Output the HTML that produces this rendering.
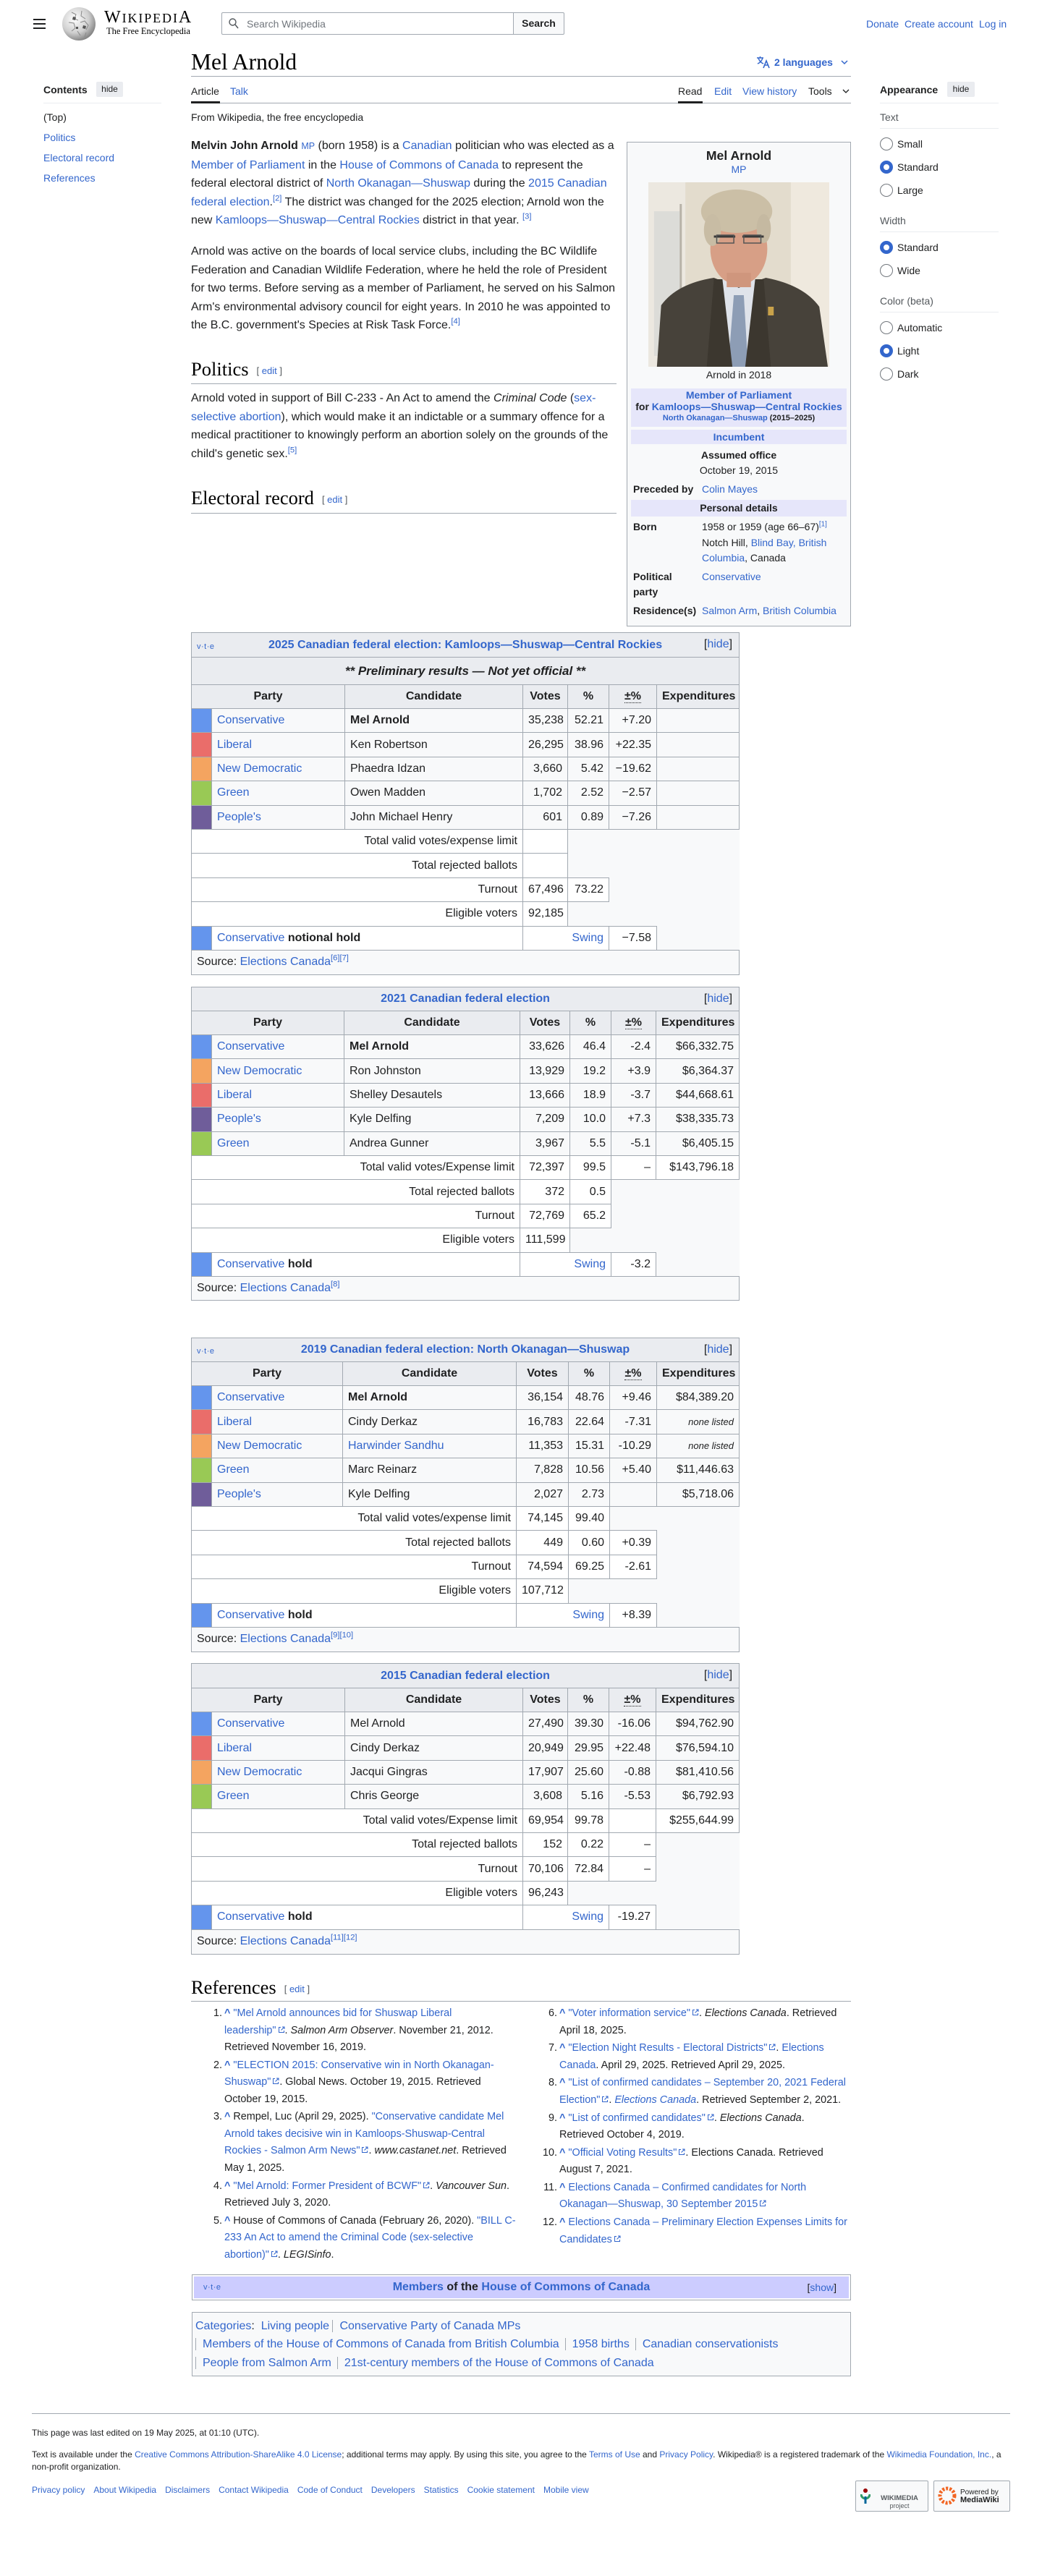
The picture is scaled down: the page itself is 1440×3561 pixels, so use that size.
<!DOCTYPE html>
<html><head><meta charset="utf-8">
<style>
*{box-sizing:border-box;margin:0;padding:0}
html,body{width:1440px;height:3561px;background:#fff;overflow:hidden}
body{position:relative;font-family:"Liberation Sans",Arial,sans-serif;color:#202122;font-size:14px}
a{color:#3366cc;text-decoration:none}
.abs{position:absolute}
.nw{white-space:nowrap}
.serif{font-family:"Liberation Serif",serif}
sup{font-size:0.7em;line-height:0;vertical-align:super}
.p16{position:absolute;left:264px;font-size:16px;line-height:25.6px;white-space:nowrap}
.hd{position:absolute;left:264px;font-family:"Liberation Serif",serif;font-size:26.5px;line-height:34px;border-bottom:1px solid #a2a9b1;white-space:nowrap;color:#000}
.ed{font-family:"Liberation Sans",Arial,sans-serif;font-size:13px;color:#54595d;margin-left:11px;vertical-align:2px}
.tl{position:absolute;font-size:14px;line-height:20px;white-space:nowrap}
.rad{position:absolute;left:1216px;width:18px;height:18px;border:1px solid #72777d;border-radius:50%;background:#fff}
.rad.on{border:5px solid #3366cc}
.rl{position:absolute;left:1240px;font-size:14px;line-height:20px}
.sl{position:absolute;left:1216px;width:164px;height:1px;background:#eaecf0}
.sh{position:absolute;left:1216px;font-size:14px;line-height:20px;color:#54595d}
/* infobox */
.ib{position:absolute;left:866px;top:196px;width:310px;height:670px;background:#f8f9fa;border:1px solid #a2a9b1;font-size:14px}
.ib .c{position:absolute;left:0;width:308px;text-align:center;line-height:20px;white-space:nowrap}
.ib .lab{position:absolute;left:8px;font-weight:bold;line-height:21px;white-space:nowrap}
.ib .dat{position:absolute;left:103px;line-height:21.5px;white-space:nowrap}
.ib .bx{position:absolute;left:5px;width:298px;background:#e6e6fa;text-align:center;font-weight:bold;white-space:nowrap}
/* tables */
table.el{position:absolute;left:264px;width:757px;border-collapse:collapse;table-layout:fixed;background:#f8f9fa;font-size:16px;line-height:20px;color:#202122}
table.el td,table.el th{border:1px solid #a2a9b1;padding:0 7px;white-space:nowrap;overflow:hidden}
table.el th{background:#eaecf0;font-weight:bold;text-align:center}
table.el tr{height:33.4px}
table.el tr.t td{background:#fff;text-align:right}
table.el td.r{text-align:right}
table.el td.sw{padding:0}
table.el td.w{background:#fff}
table.el th.cap{position:relative}
.vte{position:absolute;left:7px;top:9px;font-size:11px;font-weight:normal;color:#3366cc;letter-spacing:0.5px}
.hide{position:absolute;right:9px;top:6px;font-weight:normal;color:#202122}
.abbr{border-bottom:1px dotted #202122}
.nl{font-style:italic;font-size:13px}
td.src{text-align:left!important;background:#f8f9fa}
/* refs */
.refcol{position:absolute;font-size:14.4px;line-height:23.5px;white-space:nowrap}
.refcol .it{position:relative;margin-bottom:1.2px}
.refcol .n{position:absolute;right:100%;margin-right:3px;text-align:right}
.car{color:#3366cc;font-weight:bold}
.ext{display:inline-block;width:10px;height:10px;margin-left:2px;vertical-align:0px}
.cat{position:absolute;left:270px;font-size:16px;line-height:25px;white-space:nowrap}
.cat span.s{border-left:1px solid #a2a9b1;padding:0 8px 0 9px}
.ft{position:absolute;left:44px;font-size:12px;line-height:17px;white-space:nowrap}
.ft a{margin-right:12px}
</style></head><body>

<!-- HEADER -->
<div class="abs" style="left:46px;top:26px;width:17px;height:2px;background:#202122"></div>
<div class="abs" style="left:46px;top:32px;width:17px;height:2px;background:#202122"></div>
<div class="abs" style="left:46px;top:38px;width:17px;height:2px;background:#202122"></div>
<svg class="abs" style="left:85px;top:9px" width="48" height="48" viewBox="0 0 48 48">
<defs><radialGradient id="g1" cx="0.38" cy="0.35" r="0.7"><stop offset="0" stop-color="#ffffff"/><stop offset="0.6" stop-color="#cfcfcf"/><stop offset="1" stop-color="#7d7d7d"/></radialGradient></defs>
<circle cx="24" cy="24" r="23" fill="url(#g1)"/>
<path d="M14 8l6 3-2 6 5 2M28 6l-1 7 6 4M10 22l7 1 2 7-5 4M26 22l6-2 5 6-3 6M22 34l4 6M34 36l-2 6" stroke="#8a8a8a" stroke-width="1" fill="none"/>
<path d="M16 14l4 1-1 4-4-1z M30 26l4 1-1 4-4-1z M20 28l3 0 0 3-3 0z" fill="#555"/>
</svg>
<div class="abs serif nw" style="left:144px;top:11px;font-size:18px;line-height:26px;letter-spacing:1.9px;color:#000"><span style="font-size:24px">W</span>IKIPEDI<span style="font-size:24px">A</span></div>
<div class="abs serif nw" style="left:147px;top:36px;font-size:12.5px;line-height:14px;color:#000">The Free Encyclopedia</div>
<div class="abs" style="left:306px;top:17px;width:404px;height:31px;border:1px solid #a2a9b1;border-radius:2px 0 0 2px;background:#fff"></div>
<svg class="abs" style="left:316px;top:25px" width="14" height="15" viewBox="0 0 14 15"><circle cx="5.5" cy="5.5" r="4.5" fill="none" stroke="#54595d" stroke-width="1.4"/><path d="M9 9l4 5" stroke="#54595d" stroke-width="1.5"/></svg>
<div class="tl" style="left:341px;top:23px;color:#72777d">Search Wikipedia</div>
<div class="abs" style="left:709px;top:17px;width:71px;height:31px;border:1px solid #a2a9b1;border-radius:0 2px 2px 0;background:#f8f9fa;text-align:center;font-weight:bold;line-height:29px;font-size:14px">Search</div>
<div class="tl" style="left:1197px;top:23px"><a>Donate</a></div>
<div class="tl" style="left:1250px;top:23px"><a>Create account</a></div>
<div class="tl" style="left:1353px;top:23px"><a>Log in</a></div>

<!-- TITLE -->
<div class="abs serif nw" style="left:264px;top:68px;font-size:31.5px;line-height:36px;color:#000">Mel Arnold</div>
<svg class="abs" style="left:1045px;top:77px" width="20" height="18" viewBox="0 0 20 18"><path d="M1 3h9M5.5 1v2M3 3c1 4 4 7 7 8M9 3c-1 4-4 7-7 8" stroke="#3366cc" stroke-width="1.5" fill="none"/><path d="M10 17l4-10 4 10M11.5 13h5" stroke="#3366cc" stroke-width="1.6" fill="none"/></svg>
<div class="tl" style="left:1070px;top:76px;font-weight:bold;color:#3366cc">2 languages</div>
<svg class="abs" style="left:1162px;top:82px" width="10" height="8" viewBox="0 0 10 8"><path d="M1 2l4 4 4-4" stroke="#3366cc" stroke-width="1.5" fill="none"/></svg>
<div class="abs" style="left:264px;top:105px;width:912px;height:1px;background:#a2a9b1"></div>

<!-- TABS -->
<div class="tl" style="left:264px;top:116px">Article</div>
<div class="tl" style="left:318px;top:116px"><a>Talk</a></div>
<div class="tl" style="left:937px;top:116px">Read</div>
<div class="tl" style="left:987px;top:116px"><a>Edit</a></div>
<div class="tl" style="left:1026px;top:116px"><a>View history</a></div>
<div class="tl" style="left:1117px;top:116px">Tools</div>
<svg class="abs" style="left:1164px;top:122px" width="10" height="8" viewBox="0 0 10 8"><path d="M1 2l4 4 4-4" stroke="#202122" stroke-width="1.3" fill="none"/></svg>
<div class="abs" style="left:264px;top:142px;width:912px;height:1px;background:#a2a9b1"></div>
<div class="abs" style="left:264px;top:140px;width:40px;height:3px;background:#202122"></div>
<div class="abs" style="left:937px;top:140px;width:34px;height:3px;background:#202122"></div>
<div class="tl" style="left:264px;top:152px">From Wikipedia, the free encyclopedia</div>

<!-- LEFT SIDEBAR -->
<div class="tl" style="left:60px;top:114px;font-weight:bold">Contents</div>
<div class="abs" style="left:133px;top:113px;width:37px;height:21px;background:#eaecf0;border-radius:2px;font-size:12px;line-height:21px;text-align:center">hide</div>
<div class="abs" style="left:60px;top:142px;width:163px;height:1px;background:#eaecf0"></div>
<div class="tl" style="left:60px;top:152px">(Top)</div>
<div class="tl" style="left:60px;top:180px"><a>Politics</a></div>
<div class="tl" style="left:60px;top:208px"><a>Electoral record</a></div>
<div class="tl" style="left:60px;top:236px"><a>References</a></div>

<!-- RIGHT SIDEBAR -->
<div class="tl" style="left:1216px;top:114px;font-weight:bold">Appearance</div>
<div class="abs" style="left:1309px;top:113px;width:38px;height:21px;background:#eaecf0;border-radius:2px;font-size:12px;line-height:21px;text-align:center">hide</div>
<div class="sl" style="top:142px"></div>
<div class="sh" style="top:152px">Text</div>
<div class="sl" style="top:177px"></div>
<div class="rad" style="top:190px"></div><div class="rl" style="top:189px">Small</div>
<div class="rad on" style="top:222px"></div><div class="rl" style="top:221px">Standard</div>
<div class="rad" style="top:254px"></div><div class="rl" style="top:253px">Large</div>
<div class="sh" style="top:295px">Width</div>
<div class="sl" style="top:320px"></div>
<div class="rad on" style="top:333px"></div><div class="rl" style="top:332px">Standard</div>
<div class="rad" style="top:365px"></div><div class="rl" style="top:364px">Wide</div>
<div class="sh" style="top:406px">Color (beta)</div>
<div class="sl" style="top:431px"></div>
<div class="rad" style="top:444px"></div><div class="rl" style="top:443px">Automatic</div>
<div class="rad on" style="top:476px"></div><div class="rl" style="top:475px">Light</div>
<div class="rad" style="top:508px"></div><div class="rl" style="top:507px">Dark</div>

<!-- BODY TEXT -->
<div class="p16" style="top:189px">
<div><b>Melvin John Arnold</b> <a style="font-size:12.5px">MP</a> (born 1958) is a <a>Canadian</a> politician who was elected as a</div>
<div><a>Member of Parliament</a> in the <a>House of Commons of Canada</a> to represent the</div>
<div>federal electoral district of <a>North Okanagan—Shuswap</a> during the <a>2015 Canadian</a></div>
<div><a>federal election</a>.<sup><a>[2]</a></sup> The district was changed for the 2025 election; Arnold won the</div>
<div>new <a>Kamloops—Shuswap—Central Rockies</a> district in that year. <sup><a>[3]</a></sup></div>
</div>
<div class="p16" style="top:335px">
<div>Arnold was active on the boards of local service clubs, including the BC Wildlife</div>
<div>Federation and Canadian Wildlife Federation, where he held the role of President</div>
<div>for two terms. Before serving as a member of Parliament, he served on his Salmon</div>
<div>Arm's environmental advisory council for eight years. In 2010 he was appointed to</div>
<div>the B.C. government's Species at Risk Task Force.<sup><a>[4]</a></sup></div>
</div>
<div class="hd" style="top:493px;width:588px;height:38px">Politics<span class="ed">[ <a>edit</a> ]</span></div>
<div class="p16" style="top:538px">
<div>Arnold voted in support of Bill C-233 - An Act to amend the <i>Criminal Code</i> (<a>sex-</a></div>
<div><a>selective abortion</a>), which would make it an indictable or a summary offence for a</div>
<div>medical practitioner to knowingly perform an abortion solely on the grounds of the</div>
<div>child's genetic sex.<sup><a>[5]</a></sup></div>
</div>
<div class="hd" style="top:671px;width:588px;height:39px">Electoral record<span class="ed">[ <a>edit</a> ]</span></div>

<!-- INFOBOX -->
<div class="ib">
<div class="c" style="top:7px;font-weight:bold;font-size:17.6px;line-height:22px">Mel Arnold</div>
<div class="c" style="top:27px"><a>MP</a></div>
<svg class="abs" style="left:29px;top:55px" width="250" height="255" viewBox="0 0 254 255" preserveAspectRatio="none">
<rect width="254" height="255" fill="#e3dccd"/>
<rect x="0" y="0" width="52" height="255" fill="#ece8e0"/>
<rect x="8" y="40" width="36" height="200" fill="#dcdcd8"/>
<rect x="44" y="30" width="3" height="220" fill="#b7b2a8"/>
<rect x="200" y="0" width="54" height="255" fill="#efe9de"/>
<path d="M12 255 L18 170 Q40 140 92 132 L127 145 L165 132 Q218 142 240 172 L252 255 Z" fill="#47423a"/>
<path d="M104 134 L127 146 L150 134 L160 255 L95 255 Z" fill="#dfe3ea"/>
<path d="M120 156 L134 156 L140 255 L112 255 Z" fill="#8d9db5"/>
<path d="M92 134 L104 134 L118 255 L82 255 Z" fill="#3c372f"/>
<path d="M150 134 L162 134 L172 255 L136 255 Z" fill="#3c372f"/>
<rect x="168" y="172" width="8" height="12" fill="#c9a24a"/>
<ellipse cx="127" cy="92" rx="40" ry="50" fill="#d79f86"/>
<rect x="110" y="125" width="34" height="20" fill="#cf967d"/>
<ellipse cx="124" cy="40" rx="50" ry="30" fill="#cbbfa6"/>
<ellipse cx="90" cy="66" rx="12" ry="22" fill="#c8bca4"/>
<ellipse cx="162" cy="64" rx="10" ry="20" fill="#c5b9a1"/>
<path d="M92 75 h30 M132 75 h30" stroke="#3a3a3a" stroke-width="3"/>
<rect x="96" y="73" width="24" height="11" fill="none" stroke="#555" stroke-width="1.5"/>
<rect x="134" y="73" width="24" height="11" fill="none" stroke="#555" stroke-width="1.5"/>
</svg>
<div class="c" style="top:311px">Arnold in 2018</div>
<div class="bx" style="top:340px;height:53px;line-height:16px;padding-top:1px">
<div><a>Member of Parliament</a></div>
<div>for <a>Kamloops—Shuswap—Central Rockies</a></div>
<div style="font-size:11px;line-height:17px"><a>North Okanagan—Shuswap</a> (2015–2025)</div>
</div>
<div class="bx" style="top:397px;height:20px;line-height:20px"><a>Incumbent</a></div>
<div class="c" style="top:422px;font-weight:bold">Assumed office</div>
<div class="c" style="top:443px">October 19, 2015</div>
<div class="lab" style="top:469px">Preceded by</div>
<div class="dat" style="top:469px"><a>Colin Mayes</a></div>
<div class="bx" style="top:494px;height:23px;line-height:23px">Personal details</div>
<div class="lab" style="top:521px">Born</div>
<div class="dat" style="top:521px">1958 or 1959 (age 66–67)<sup><a>[1]</a></sup><br>Notch Hill, <a>Blind Bay, British</a><br><a>Columbia</a>, Canada</div>
<div class="lab" style="top:590px">Political<br>party</div>
<div class="dat" style="top:590px"><a>Conservative</a></div>
<div class="lab" style="top:637px">Residence(s)</div>
<div class="dat" style="top:637px"><a>Salmon Arm</a>, <a>British Columbia</a></div>
</div>

<!-- TABLE 2025 -->
<table class="el" style="top:874px">
<colgroup><col style="width:28px"><col style="width:184px"><col style="width:246px"><col style="width:62px"><col style="width:57px"><col style="width:66px"><col style="width:114px"></colgroup>
<tr style="height:34px"><th colspan="7" class="cap"><span class="vte">v·t·e</span><a>2025 Canadian federal election: Kamloops—Shuswap—Central Rockies</a><span class="hide">[<a>hide</a>]</span></th></tr>
<tr style="height:38px"><th colspan="7" style="font-style:italic;font-size:17px">** Preliminary results — Not yet official **</th></tr>
<tr style="height:33px"><th colspan="2">Party</th><th>Candidate</th><th>Votes</th><th>%</th><th><span class="abbr">±%</span></th><th>Expenditures</th></tr>
<tr><td class="sw" style="background:#6495ED"></td><td><a>Conservative</a></td><td><b>Mel Arnold</b></td><td class="r">35,238</td><td class="r">52.21</td><td class="r">+7.20</td><td></td></tr>
<tr><td class="sw" style="background:#EA6D6A"></td><td><a>Liberal</a></td><td>Ken Robertson</td><td class="r">26,295</td><td class="r">38.96</td><td class="r">+22.35</td><td></td></tr>
<tr><td class="sw" style="background:#F4A460"></td><td><a>New Democratic</a></td><td>Phaedra Idzan</td><td class="r">3,660</td><td class="r">5.42</td><td class="r">−19.62</td><td></td></tr>
<tr><td class="sw" style="background:#99C955"></td><td><a>Green</a></td><td>Owen Madden</td><td class="r">1,702</td><td class="r">2.52</td><td class="r">−2.57</td><td></td></tr>
<tr><td class="sw" style="background:#6F5D9A"></td><td><a>People's</a></td><td>John Michael Henry</td><td class="r">601</td><td class="r">0.89</td><td class="r">−7.26</td><td></td></tr>
<tr class="t"><td colspan="3">Total valid votes/expense limit</td><td></td></tr>
<tr class="t"><td colspan="3">Total rejected ballots</td><td></td></tr>
<tr class="t"><td colspan="3">Turnout</td><td>67,496</td><td>73.22</td></tr>
<tr class="t"><td colspan="3">Eligible voters</td><td>92,185</td></tr>
<tr><td class="sw" style="background:#6495ED"></td><td colspan="2" class="w"><a>Conservative</a> <b>notional hold</b></td><td colspan="2" class="r w"><a>Swing</a></td><td class="r w">−7.58</td></tr>
<tr style="height:34px"><td colspan="7" class="src">Source: <a>Elections Canada</a><sup><a>[6]</a><a>[7]</a></sup></td></tr>
</table>

<!-- TABLE 2021 -->
<table class="el" style="top:1364px">
<colgroup><col style="width:28px"><col style="width:183px"><col style="width:243px"><col style="width:69px"><col style="width:57px"><col style="width:62px"><col style="width:115px"></colgroup>
<tr style="height:33px"><th colspan="7" class="cap"><a>2021 Canadian federal election</a><span class="hide">[<a>hide</a>]</span></th></tr>
<tr style="height:33px"><th colspan="2">Party</th><th>Candidate</th><th>Votes</th><th>%</th><th><span class="abbr">±%</span></th><th>Expenditures</th></tr>
<tr><td class="sw" style="background:#6495ED"></td><td><a>Conservative</a></td><td><b>Mel Arnold</b></td><td class="r">33,626</td><td class="r">46.4</td><td class="r">-2.4</td><td class="r">$66,332.75</td></tr>
<tr><td class="sw" style="background:#F4A460"></td><td><a>New Democratic</a></td><td>Ron Johnston</td><td class="r">13,929</td><td class="r">19.2</td><td class="r">+3.9</td><td class="r">$6,364.37</td></tr>
<tr><td class="sw" style="background:#EA6D6A"></td><td><a>Liberal</a></td><td>Shelley Desautels</td><td class="r">13,666</td><td class="r">18.9</td><td class="r">-3.7</td><td class="r">$44,668.61</td></tr>
<tr><td class="sw" style="background:#6F5D9A"></td><td><a>People's</a></td><td>Kyle Delfing</td><td class="r">7,209</td><td class="r">10.0</td><td class="r">+7.3</td><td class="r">$38,335.73</td></tr>
<tr><td class="sw" style="background:#99C955"></td><td><a>Green</a></td><td>Andrea Gunner</td><td class="r">3,967</td><td class="r">5.5</td><td class="r">-5.1</td><td class="r">$6,405.15</td></tr>
<tr class="t"><td colspan="3">Total valid votes/Expense limit</td><td>72,397</td><td>99.5</td><td>–</td><td>$143,796.18</td></tr>
<tr class="t"><td colspan="3">Total rejected ballots</td><td>372</td><td>0.5</td></tr>
<tr class="t"><td colspan="3">Turnout</td><td>72,769</td><td>65.2</td></tr>
<tr class="t"><td colspan="3">Eligible voters</td><td>111,599</td></tr>
<tr><td class="sw" style="background:#6495ED"></td><td colspan="2" class="w"><a>Conservative</a> <b>hold</b></td><td colspan="2" class="r w"><a>Swing</a></td><td class="r w">-3.2</td></tr>
<tr style="height:33px"><td colspan="7" class="src">Source: <a>Elections Canada</a><sup><a>[8]</a></sup></td></tr>
</table>

<!-- TABLE 2019 -->
<table class="el" style="top:1849px">
<colgroup><col style="width:28px"><col style="width:181px"><col style="width:240px"><col style="width:72px"><col style="width:57px"><col style="width:65px"><col style="width:114px"></colgroup>
<tr style="height:33px"><th colspan="7" class="cap"><span class="vte" style="top:8px">v·t·e</span><a>2019 Canadian federal election: North Okanagan—Shuswap</a><span class="hide">[<a>hide</a>]</span></th></tr>
<tr style="height:33px"><th colspan="2">Party</th><th>Candidate</th><th>Votes</th><th>%</th><th><span class="abbr">±%</span></th><th>Expenditures</th></tr>
<tr><td class="sw" style="background:#6495ED"></td><td><a>Conservative</a></td><td><b>Mel Arnold</b></td><td class="r">36,154</td><td class="r">48.76</td><td class="r">+9.46</td><td class="r">$84,389.20</td></tr>
<tr><td class="sw" style="background:#EA6D6A"></td><td><a>Liberal</a></td><td>Cindy Derkaz</td><td class="r">16,783</td><td class="r">22.64</td><td class="r">-7.31</td><td class="r"><span class="nl">none listed</span></td></tr>
<tr><td class="sw" style="background:#F4A460"></td><td><a>New Democratic</a></td><td><a>Harwinder Sandhu</a></td><td class="r">11,353</td><td class="r">15.31</td><td class="r">-10.29</td><td class="r"><span class="nl">none listed</span></td></tr>
<tr><td class="sw" style="background:#99C955"></td><td><a>Green</a></td><td>Marc Reinarz</td><td class="r">7,828</td><td class="r">10.56</td><td class="r">+5.40</td><td class="r">$11,446.63</td></tr>
<tr><td class="sw" style="background:#6F5D9A"></td><td><a>People's</a></td><td>Kyle Delfing</td><td class="r">2,027</td><td class="r">2.73</td><td class="r"></td><td class="r">$5,718.06</td></tr>
<tr class="t"><td colspan="3">Total valid votes/expense limit</td><td>74,145</td><td>99.40</td></tr>
<tr class="t"><td colspan="3">Total rejected ballots</td><td>449</td><td>0.60</td><td>+0.39</td></tr>
<tr class="t"><td colspan="3">Turnout</td><td>74,594</td><td>69.25</td><td>-2.61</td></tr>
<tr class="t"><td colspan="3">Eligible voters</td><td>107,712</td></tr>
<tr><td class="sw" style="background:#6495ED"></td><td colspan="2" class="w"><a>Conservative</a> <b>hold</b></td><td colspan="2" class="r w"><a>Swing</a></td><td class="r w">+8.39</td></tr>
<tr style="height:34px"><td colspan="7" class="src">Source: <a>Elections Canada</a><sup><a>[9]</a><a>[10]</a></sup></td></tr>
</table>

<!-- TABLE 2015 -->
<table class="el" style="top:2299px">
<colgroup><col style="width:28px"><col style="width:184px"><col style="width:246px"><col style="width:62px"><col style="width:57px"><col style="width:65px"><col style="width:115px"></colgroup>
<tr style="height:34px"><th colspan="7" class="cap"><a>2015 Canadian federal election</a><span class="hide">[<a>hide</a>]</span></th></tr>
<tr style="height:33px"><th colspan="2">Party</th><th>Candidate</th><th>Votes</th><th>%</th><th><span class="abbr">±%</span></th><th>Expenditures</th></tr>
<tr><td class="sw" style="background:#6495ED"></td><td><a>Conservative</a></td><td>Mel Arnold</td><td class="r">27,490</td><td class="r">39.30</td><td class="r">-16.06</td><td class="r">$94,762.90</td></tr>
<tr><td class="sw" style="background:#EA6D6A"></td><td><a>Liberal</a></td><td>Cindy Derkaz</td><td class="r">20,949</td><td class="r">29.95</td><td class="r">+22.48</td><td class="r">$76,594.10</td></tr>
<tr><td class="sw" style="background:#F4A460"></td><td><a>New Democratic</a></td><td>Jacqui Gingras</td><td class="r">17,907</td><td class="r">25.60</td><td class="r">-0.88</td><td class="r">$81,410.56</td></tr>
<tr><td class="sw" style="background:#99C955"></td><td><a>Green</a></td><td>Chris George</td><td class="r">3,608</td><td class="r">5.16</td><td class="r">-5.53</td><td class="r">$6,792.93</td></tr>
<tr class="t"><td colspan="3">Total valid votes/Expense limit</td><td>69,954</td><td>99.78</td><td></td><td>$255,644.99</td></tr>
<tr class="t"><td colspan="3">Total rejected ballots</td><td>152</td><td>0.22</td><td>–</td></tr>
<tr class="t"><td colspan="3">Turnout</td><td>70,106</td><td>72.84</td><td>–</td></tr>
<tr class="t"><td colspan="3">Eligible voters</td><td>96,243</td></tr>
<tr><td class="sw" style="background:#6495ED"></td><td colspan="2" class="w"><a>Conservative</a> <b>hold</b></td><td colspan="2" class="r w"><a>Swing</a></td><td class="r w">-19.27</td></tr>
<tr style="height:34px"><td colspan="7" class="src">Source: <a>Elections Canada</a><sup><a>[11]</a><a>[12]</a></sup></td></tr>
</table>

<!-- REFERENCES -->
<div class="hd" style="top:2730px;width:912px;height:37px">References<span class="ed">[ <a>edit</a> ]</span></div>
<div class="refcol" style="left:310px;top:2772px">
<div class="it"><span class="n">1.</span><span class="car">^</span> <a>"Mel Arnold announces bid for Shuswap Liberal<br>leadership"</a><svg class="ext" viewBox="0 0 10 10"><path d="M4 1.5H1.5v7h7V6M6 1h3v3M9 1L4.5 5.5" fill="none" stroke="#3366cc"/></svg>. <i>Salmon Arm Observer</i>. November 21, 2012.<br>Retrieved November 16, 2019.</div>
<div class="it"><span class="n">2.</span><span class="car">^</span> <a>"ELECTION 2015: Conservative win in North Okanagan-<br>Shuswap"</a><svg class="ext" viewBox="0 0 10 10"><path d="M4 1.5H1.5v7h7V6M6 1h3v3M9 1L4.5 5.5" fill="none" stroke="#3366cc"/></svg>. Global News. October 19, 2015. Retrieved<br>October 19, 2015.</div>
<div class="it"><span class="n">3.</span><span class="car">^</span> Rempel, Luc (April 29, 2025). <a>"Conservative candidate Mel<br>Arnold takes decisive win in Kamloops-Shuswap-Central<br>Rockies - Salmon Arm News"</a><svg class="ext" viewBox="0 0 10 10"><path d="M4 1.5H1.5v7h7V6M6 1h3v3M9 1L4.5 5.5" fill="none" stroke="#3366cc"/></svg>. <i>www.castanet.net</i>. Retrieved<br>May 1, 2025.</div>
<div class="it"><span class="n">4.</span><span class="car">^</span> <a>"Mel Arnold: Former President of BCWF"</a><svg class="ext" viewBox="0 0 10 10"><path d="M4 1.5H1.5v7h7V6M6 1h3v3M9 1L4.5 5.5" fill="none" stroke="#3366cc"/></svg>. <i>Vancouver Sun</i>.<br>Retrieved July 3, 2020.</div>
<div class="it"><span class="n">5.</span><span class="car">^</span> House of Commons of Canada (February 26, 2020). <a>"BILL C-<br>233 An Act to amend the Criminal Code (sex-selective<br>abortion)"</a><svg class="ext" viewBox="0 0 10 10"><path d="M4 1.5H1.5v7h7V6M6 1h3v3M9 1L4.5 5.5" fill="none" stroke="#3366cc"/></svg>. <i>LEGISinfo</i>.</div>
</div>
<div class="refcol" style="left:773px;top:2772px">
<div class="it"><span class="n">6.</span><span class="car">^</span> <a>"Voter information service"</a><svg class="ext" viewBox="0 0 10 10"><path d="M4 1.5H1.5v7h7V6M6 1h3v3M9 1L4.5 5.5" fill="none" stroke="#3366cc"/></svg>. <i>Elections Canada</i>. Retrieved<br>April 18, 2025.</div>
<div class="it"><span class="n">7.</span><span class="car">^</span> <a>"Election Night Results - Electoral Districts"</a><svg class="ext" viewBox="0 0 10 10"><path d="M4 1.5H1.5v7h7V6M6 1h3v3M9 1L4.5 5.5" fill="none" stroke="#3366cc"/></svg>. <a>Elections<br>Canada</a>. April 29, 2025. Retrieved April 29, 2025.</div>
<div class="it"><span class="n">8.</span><span class="car">^</span> <a>"List of confirmed candidates – September 20, 2021 Federal<br>Election"</a><svg class="ext" viewBox="0 0 10 10"><path d="M4 1.5H1.5v7h7V6M6 1h3v3M9 1L4.5 5.5" fill="none" stroke="#3366cc"/></svg>. <a><i>Elections Canada</i></a>. Retrieved September 2, 2021.</div>
<div class="it"><span class="n">9.</span><span class="car">^</span> <a>"List of confirmed candidates"</a><svg class="ext" viewBox="0 0 10 10"><path d="M4 1.5H1.5v7h7V6M6 1h3v3M9 1L4.5 5.5" fill="none" stroke="#3366cc"/></svg>. <i>Elections Canada</i>.<br>Retrieved October 4, 2019.</div>
<div class="it"><span class="n">10.</span><span class="car">^</span> <a>"Official Voting Results"</a><svg class="ext" viewBox="0 0 10 10"><path d="M4 1.5H1.5v7h7V6M6 1h3v3M9 1L4.5 5.5" fill="none" stroke="#3366cc"/></svg>. Elections Canada. Retrieved<br>August 7, 2021.</div>
<div class="it"><span class="n">11.</span><span class="car">^</span> <a>Elections Canada – Confirmed candidates for North<br>Okanagan—Shuswap, 30 September 2015</a><svg class="ext" viewBox="0 0 10 10"><path d="M4 1.5H1.5v7h7V6M6 1h3v3M9 1L4.5 5.5" fill="none" stroke="#3366cc"/></svg></div>
<div class="it"><span class="n">12.</span><span class="car">^</span> <a>Elections Canada – Preliminary Election Expenses Limits for<br>Candidates</a><svg class="ext" viewBox="0 0 10 10"><path d="M4 1.5H1.5v7h7V6M6 1h3v3M9 1L4.5 5.5" fill="none" stroke="#3366cc"/></svg></div>
</div>

<!-- NAVBOX -->
<div class="abs" style="left:265px;top:3144px;width:911px;height:36px;border:1px solid #a2a9b1;padding:2px;background:#fdfdfd">
<div style="position:relative;height:30px;background:#ccf;text-align:center;line-height:30px;font-size:16px;font-weight:bold;white-space:nowrap">
<span style="position:absolute;left:13px;top:0;font-size:11px;font-weight:normal;color:#3366cc;letter-spacing:0.5px">v·t·e</span>
<a>Members</a> of the <a>House of Commons of Canada</a>
<span style="position:absolute;right:17px;top:0;font-weight:normal;font-size:14px">[<a>show</a>]</span>
</div></div>

<!-- CATEGORIES -->
<div class="abs" style="left:265px;top:3196px;width:911px;height:89px;border:1px solid #a2a9b1;background:#f8f9fa"></div>
<div class="cat" style="top:3203px"><a>Categories</a>: &nbsp;<a>Living people</a> <span class="s"><a>Conservative Party of Canada MPs</a></span></div>
<div class="cat" style="top:3228px"><span class="s"><a>Members of the House of Commons of Canada from British Columbia</a></span><span class="s"><a>1958 births</a></span><span class="s"><a>Canadian conservationists</a></span></div>
<div class="cat" style="top:3254px"><span class="s"><a>People from Salmon Arm</a></span><span class="s"><a>21st-century members of the House of Commons of Canada</a></span></div>

<!-- FOOTER -->
<div class="abs" style="left:44px;top:3336px;width:1352px;height:1px;background:#a2a9b1"></div>
<div class="ft" style="top:3355px">This page was last edited on 19 May 2025, at 01:10 (UTC).</div>
<div class="ft" style="top:3385px">Text is available under the <a style="margin:0">Creative Commons Attribution-ShareAlike 4.0 License</a>; additional terms may apply. By using this site, you agree to the <a style="margin:0">Terms of Use</a> and <a style="margin:0">Privacy Policy</a>. Wikipedia® is a registered trademark of the <a style="margin:0">Wikimedia Foundation, Inc.</a>, a<br>non-profit organization.</div>
<div class="ft" style="top:3434px"><a>Privacy policy</a><a>About Wikipedia</a><a>Disclaimers</a><a>Contact Wikipedia</a><a>Code of Conduct</a><a>Developers</a><a>Statistics</a><a>Cookie statement</a><a>Mobile view</a></div>
<div class="abs" style="left:1182px;top:3429px;width:101px;height:43px;border:1px solid #a2a9b1;border-radius:2px;background:#f8f9fa"></div>
<svg class="abs" style="left:1189px;top:3439px" width="14" height="24" viewBox="0 0 14 24"><circle cx="7" cy="4" r="3" fill="#990000"/><path d="M1 9a6 6 0 0 0 12 0" stroke="#339966" stroke-width="3" fill="none"/><path d="M7 12v10" stroke="#006699" stroke-width="3"/></svg>
<div class="abs nw" style="left:1208px;top:3438px;font-size:9px;line-height:10px;color:#54595d;text-align:center;width:70px">&nbsp;<br><b style="font-size:9.5px">WIKIMEDIA</b><br>project</div>
<div class="abs" style="left:1290px;top:3429px;width:106px;height:43px;border:1px solid #a2a9b1;border-radius:2px;background:#f8f9fa"></div>
<svg class="abs" style="left:1296px;top:3436px" width="26" height="28" viewBox="0 0 26 28"><circle cx="13" cy="14" r="10" fill="none" stroke="#f26522" stroke-width="5" stroke-dasharray="3 2"/></svg>
<div class="abs nw" style="left:1327px;top:3440px;font-size:10px;line-height:11px;color:#202122">Powered by<br><b style="font-size:11px">MediaWiki</b></div>

</body></html>
